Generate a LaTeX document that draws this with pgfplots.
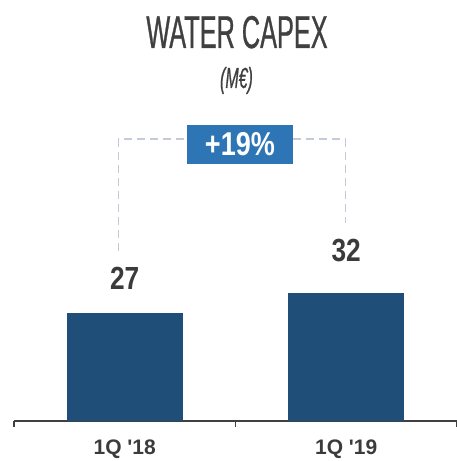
\documentclass[border=0pt]{standalone}
\usepackage{fontspec}
\setmainfont{Liberation Sans}
\newfontfamily\titlefont[FakeStretch=0.55, FakeBold=0.6]{Liberation Sans}
\newfontfamily\narrowfont[FakeStretch=0.82]{Liberation Sans}
\newfontfamily\labfont{Liberation Sans}
\usepackage{pgfplots}
\pgfplotsset{compat=1.18}
\definecolor{barblue}{HTML}{1F4E79}
\definecolor{boxblue}{HTML}{2E75B6}
\definecolor{txtgray}{HTML}{3B3B3B}
\definecolor{dashgray}{HTML}{C3CAD8}
\definecolor{axgray}{HTML}{404040}
\begin{document}
\begin{tikzpicture}[x=1pt,y=1pt]
\useasboundingbox (0,0) rectangle (457,461);
% title and unit
\node[anchor=base, text=axgray, inner sep=0] at (237,413)
  {\titlefont\fontsize{46}{50}\selectfont WATER CAPEX};
\node[anchor=base, text=axgray, inner sep=0] at (236.5,373)
  {\titlefont\itshape\fontsize{29}{32}\selectfont (M€)};
\begin{axis}[
  at={(14pt,40pt)}, anchor=south west,
  scale only axis, width=443pt, height=320pt,
  xmin=-0.5, xmax=1.5, ymin=0, ymax=80,
  axis x line*=bottom, axis y line=none,
  x axis line style={-, draw=axgray, line width=1.2pt},
  xtick={0,1}, xticklabels={1Q '18,1Q '19},
  major tick length=0pt,
  extra x ticks={-0.5,0.5,1.5}, extra x tick labels={},
  extra x tick style={major tick length=6pt, tick align=outside,
    tick style={draw=axgray, line width=1.2pt}},
  xticklabel style={text=txtgray, font=\labfont\bfseries\fontsize{21}{24}\selectfont,
    anchor=base, yshift=-34pt},
  ybar, bar width=116pt, bar shift=0pt,
  nodes near coords,
  /pgf/number format/assume math mode=true,
  every node near coord/.append style={text=txtgray, anchor=base,
    font=\narrowfont\bfseries\fontsize{32}{36}\selectfont},
  clip=false,
]
\addplot[fill=barblue, draw=none,
  every node near coord/.append style={yshift=24pt}] coordinates {(0,27)};
\addplot[fill=barblue, draw=none,
  every node near coord/.append style={yshift=32pt}] coordinates {(1,32)};
% growth bracket
\draw[dashgray, line width=1.3pt, dash pattern=on 8pt off 5pt]
  (axis cs:-0.027,42.5) -- (axis cs:-0.027,70.5) -- (axis cs:0.9955,70.5) -- (axis cs:0.9955,49.5);
\node[fill=boxblue, text=white, minimum width=106pt, minimum height=39pt, inner sep=0,
  font=\narrowfont\bfseries\fontsize{33}{36}\selectfont]
  at (axis cs:0.52,69.1) {+19\%};
\end{axis}
\end{tikzpicture}
\end{document}
